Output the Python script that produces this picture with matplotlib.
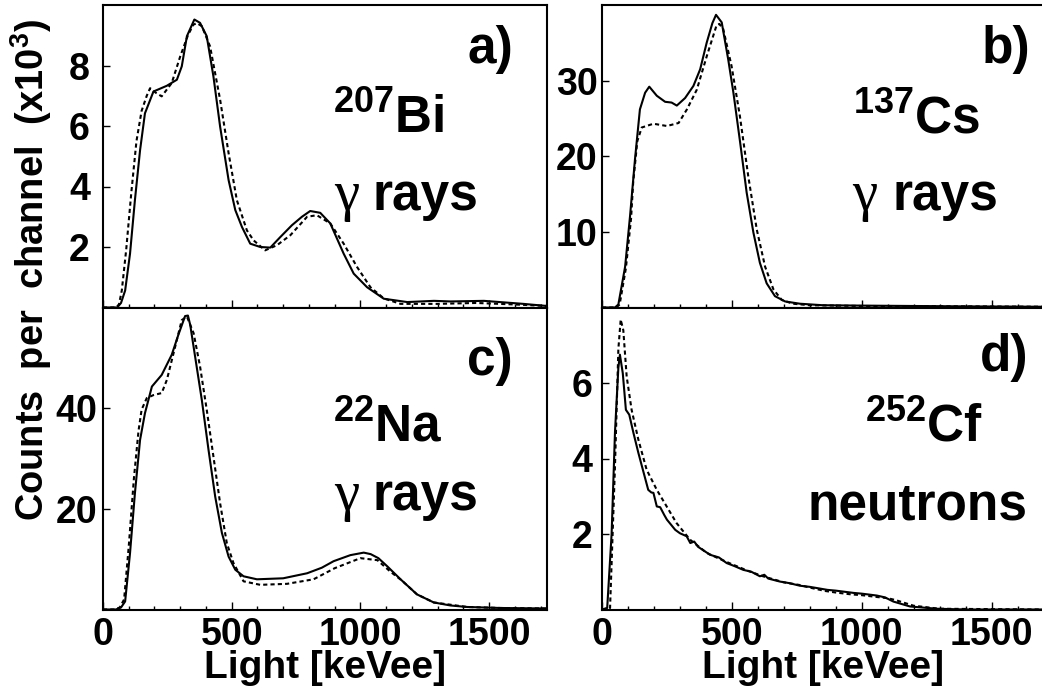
import numpy as np
import matplotlib
matplotlib.use("Agg")
import matplotlib.pyplot as plt
from matplotlib.ticker import MultipleLocator

plt.rcParams['font.family'] = ['Liberation Sans', 'DejaVu Sans']
plt.rcParams['font.weight'] = 'bold'
plt.rcParams['mathtext.fontset'] = 'custom'
plt.rcParams['mathtext.rm'] = 'Liberation Sans:bold'
plt.rcParams['mathtext.bf'] = 'Liberation Sans:bold'
plt.rcParams['mathtext.it'] = 'Liberation Sans:bold'
plt.rcParams['mathtext.default'] = 'bf'

# ---- panel a) 207Bi (counts x10^3) ----
a_E_solid = [0, 55, 70, 86, 105, 124, 144, 163, 196, 248, 287, 306, 326, 355, 377, 403, 429, 455, 488,
             514, 540, 572, 611, 650, 689, 734, 773, 805, 844, 883, 935, 974, 1026, 1091, 1182, 1286,
             1350, 1480, 1633, 1725]
a_y_solid = [0, 0, 0.15, 0.56, 1.78, 3.55, 5.2, 6.42, 7.14, 7.33, 7.53, 7.97, 8.97, 9.52, 9.41, 8.97, 7.64,
             5.98, 4.21, 3.22, 2.66, 2.11, 2.0, 1.98, 2.33, 2.72, 3.0, 3.19, 3.13, 2.78, 1.78, 1.12, 0.67,
             0.29, 0.18, 0.22, 0.2, 0.22, 0.12, 0.05]
a_E_dash = [0, 50, 62, 73, 90, 110, 130, 150, 170, 183, 205, 228, 267, 300, 330, 351, 365, 384, 416, 455,
            488, 520, 559, 585, 630, 676, 728, 793, 831, 883, 935, 987, 1039, 1091, 1156, 1300, 1450,
            1600, 1725]
a_y_dash = [0, 0, 0.1, 0.56, 1.9, 3.8, 5.5, 6.5, 7.0, 7.25, 7.1, 6.98, 7.42, 8.3, 9.0, 9.35, 9.4, 9.3, 8.63,
            6.87, 5.1, 3.55, 2.55, 2.22, 1.89, 2.06, 2.39, 3.0, 3.05, 2.78, 2.11, 1.34, 0.67, 0.3, 0.12,
            0.12, 0.15, 0.1, 0.05]

# ---- panel b) 137Cs ----
b_E_solid = [0, 50, 63, 89, 108, 127, 146, 166, 182, 211, 243, 268, 288, 320, 352, 378, 403, 425, 439,
             461, 486, 506, 532, 557, 583, 608, 634, 666, 705, 762, 850, 1000, 1200, 1400, 1700]
b_y_solid = [0, 0, 0.4, 5.4, 12.1, 19.6, 26.2, 28.4, 29.2, 28.0, 27.2, 27.1, 26.7, 27.7, 29.3, 31.5, 35.0,
             37.6, 38.7, 37.7, 32.8, 28.4, 21.8, 15.2, 9.9, 5.9, 3.2, 1.5, 0.8, 0.5, 0.3, 0.25, 0.2, 0.15, 0.1]
b_E_dash = [0, 55, 68, 92, 112, 120, 136, 153, 198, 250, 295, 327, 365, 404, 441, 452, 467, 499, 531, 563,
            596, 628, 660, 692, 735, 800, 1000, 1400, 1700]
b_y_dash = [0, 0, 0.4, 5.2, 11.8, 16.5, 22.0, 23.8, 24.3, 24.0, 24.4, 26.2, 28.8, 33.3, 37.3, 37.5, 36.8,
            31.9, 25.3, 17.4, 10.3, 5.4, 2.4, 1.0, 0.5, 0.3, 0.2, 0.15, 0.1]

# ---- panel c) 22Na ----
c_E_solid = [0, 50, 70, 86, 105, 124, 144, 163, 190, 228, 267, 293, 319, 330, 339, 358, 384, 410, 436,
             462, 488, 514, 546, 598, 700, 793, 850, 896, 961, 1013, 1040, 1070, 1104, 1156, 1220, 1285,
             1350, 1415, 1545, 1725]
c_y_solid = [0, 0, 0.4, 1.6, 11.2, 23.1, 33.7, 39.0, 44.3, 46.6, 50.6, 54.6, 58.3, 58.4, 56.5, 50.2, 41.6,
             31.7, 22.4, 15.2, 10.5, 7.9, 6.6, 6.0, 6.2, 7.2, 8.3, 9.6, 10.8, 11.3, 11.0, 10.2, 8.6, 6.0,
             3.0, 1.4, 0.8, 0.5, 0.3, 0.2]
c_E_dash = [0, 45, 65, 82, 100, 120, 138, 150, 170, 196, 228, 248, 274, 306, 326, 352, 377, 403, 429, 455,
            481, 507, 546, 611, 715, 818, 900, 1000, 1066, 1117, 1160, 1220, 1285, 1415, 1545, 1725]
c_y_dash = [0, 0, 0.4, 2.0, 12.5, 26.0, 35.5, 39.7, 42.0, 42.6, 43.0, 45.6, 50.9, 57.5, 58.2, 54.9, 48.3,
            39.7, 30.4, 21.1, 13.2, 9.2, 5.6, 4.9, 5.1, 6.0, 8.2, 10.2, 9.8, 7.5, 5.8, 3.0, 1.4, 0.5, 0.3, 0.2]

# ---- panel d) 252Cf ----
d_E_solid = [0, 20, 37, 50, 63, 69, 80, 92, 105, 121, 140, 159, 178, 190, 198, 211, 224, 240, 250, 282,
             300, 326, 340, 355, 370, 416, 430, 450, 480, 510, 544, 575, 608, 625, 640, 685, 720, 762, 800,
             826, 868, 900, 968, 1000, 1058, 1090, 1122, 1186, 1290, 1400, 1700]
d_y_solid = [0, 0.04, 2.0, 4.7, 6.4, 6.75, 6.26, 5.29, 5.16, 4.68, 4.15, 3.66, 3.17, 3.1, 3.09, 2.73, 2.71,
             2.5, 2.38, 2.11, 2.02, 1.94, 1.76, 1.80, 1.66, 1.45, 1.42, 1.38, 1.23, 1.15, 1.05, 1.0, 0.88,
             0.92, 0.82, 0.74, 0.70, 0.63, 0.60, 0.57, 0.52, 0.50, 0.44, 0.42, 0.37, 0.32, 0.21, 0.08, 0.02,
             0, 0]
d_E_dash = [0, 31, 50, 63, 72, 82, 95, 114, 140, 172, 211, 249, 287, 339, 403, 450, 500, 560, 620, 700,
            760, 800, 860, 900, 960, 1000, 1060, 1100, 1130, 1200, 1300, 1700]
d_y_dash = [0, 0.04, 3.8, 6.9, 7.68, 7.4, 6.17, 5.29, 4.5, 3.7, 3.17, 2.73, 2.29, 1.85, 1.5, 1.35, 1.2,
            1.03, 0.88, 0.72, 0.65, 0.58, 0.49, 0.45, 0.40, 0.38, 0.33, 0.30, 0.25, 0.1, 0.02, 0]

W, H = 1042, 695
fig = plt.figure(figsize=(W / 100, H / 100), dpi=100)


def px_axes(x0, x1, ytop, ybot):
    return fig.add_axes([x0 / W, 1 - ybot / H, (x1 - x0) / W, (ybot - ytop) / H])


panels = [
    # axes box, data, xlim, ylim, yticks, ytick pad, labels
    dict(box=(103, 547, 5, 307.5), E1=a_E_solid, y1=a_y_solid, E2=a_E_dash, y2=a_y_dash,
         xmax=1725, ymax=10, yt=[2, 4, 6, 8], pad=9.4, bottom=False,
         tag='a)', tag_xy=(0.923, 0.808), iso=r'$^{207}$Bi', iso_xy=(0.518, 0.576),
         gam_xy=(0.521, 0.321), rays_x=0.608, extra='rays'),
    dict(box=(602, 1043.5, 5, 307.5), E1=b_E_solid, y1=b_y_solid, E2=b_E_dash, y2=b_y_dash,
         xmax=1700, ymax=40, yt=[10, 20, 30], pad=3.0, bottom=False,
         tag='b)', tag_xy=(0.969, 0.808), iso=r'$^{137}$Cs', iso_xy=(0.569, 0.576),
         gam_xy=(0.567, 0.321), rays_x=0.659, extra='rays'),
    dict(box=(103, 547, 307.5, 609.5), E1=c_E_solid, y1=c_y_solid, E2=c_E_dash, y2=c_y_dash,
         xmax=1725, ymax=60, yt=[20, 40], pad=4.3, bottom=True,
         tag='c)', tag_xy=(0.923, 0.778), iso=r'$^{22}$Na', iso_xy=(0.518, 0.557),
         gam_xy=(0.521, 0.33), rays_x=0.608, extra='rays'),
    dict(box=(602, 1043.5, 307.5, 609.5), E1=d_E_solid, y1=d_y_solid, E2=d_E_dash, y2=d_y_dash,
         xmax=1700, ymax=8, yt=[2, 4, 6], pad=7.0, bottom=True,
         tag='d)', tag_xy=(0.965, 0.789), iso=r'$^{252}$Cf', iso_xy=(0.596, 0.557),
         gam_xy=None, rays_x=None, extra='neutrons'),
]

big = 37
for p in panels:
    ax = px_axes(*p['box'])
    ax.plot(p['E1'], p['y1'], color='black', lw=1.5, ls='-')
    ax.plot(p['E2'], p['y2'], color='black', lw=1.5, ls=(0, (2, 1.5)))
    ax.set_xlim(0, p['xmax'])
    ax.set_ylim(0, p['ymax'])
    ax.xaxis.set_major_locator(MultipleLocator(500))
    ax.xaxis.set_minor_locator(MultipleLocator(100))
    ax.set_yticks(p['yt'])
    ax.tick_params(axis='x', which='major', direction='in', length=5.8, width=1.0,
                   top=False, labelsize=27, pad=5.4, labelbottom=p['bottom'])
    ax.tick_params(axis='x', which='minor', direction='in', length=2.9, width=1.0, top=False)
    ax.tick_params(axis='y', which='major', direction='in', length=5, width=1.0,
                   right=False, labelsize=27, pad=p['pad'])
    for lab in ax.get_xticklabels() + ax.get_yticklabels():
        lab.set_fontweight('bold')
    for s in ax.spines.values():
        s.set_linewidth(1.5)
    if p['bottom']:
        ax.set_xlabel('Light [keVee]', fontsize=28, fontweight='bold', labelpad=-2)

    tx = ax.transAxes
    ax.text(p['tag_xy'][0], p['tag_xy'][1], p['tag'], transform=tx, fontsize=big,
            fontweight='bold', ha='right', va='baseline')
    ax.text(p['iso_xy'][0], p['iso_xy'][1], p['iso'], transform=tx, fontsize=big,
            fontweight='bold', ha='left', va='baseline')
    if p['gam_xy'] is not None:
        ax.text(p['gam_xy'][0], p['gam_xy'][1], 'γ', transform=tx, fontsize=41,
                family='Liberation Serif', fontweight='normal', ha='left', va='baseline')
        ax.text(p['rays_x'], p['gam_xy'][1], 'rays', transform=tx, fontsize=big,
                fontweight='bold', ha='left', va='baseline')
    else:
        ax.text(0.963, 0.297, p['extra'], transform=tx, fontsize=big,
                fontweight='bold', ha='right', va='baseline')

fig.text(31 / W, 0.612, r'Counts  per  channel  (x10$^{3}$)', rotation=90, fontsize=27.4,
         fontweight='bold', ha='center', va='center')

fig.savefig('out.png', dpi=100)
